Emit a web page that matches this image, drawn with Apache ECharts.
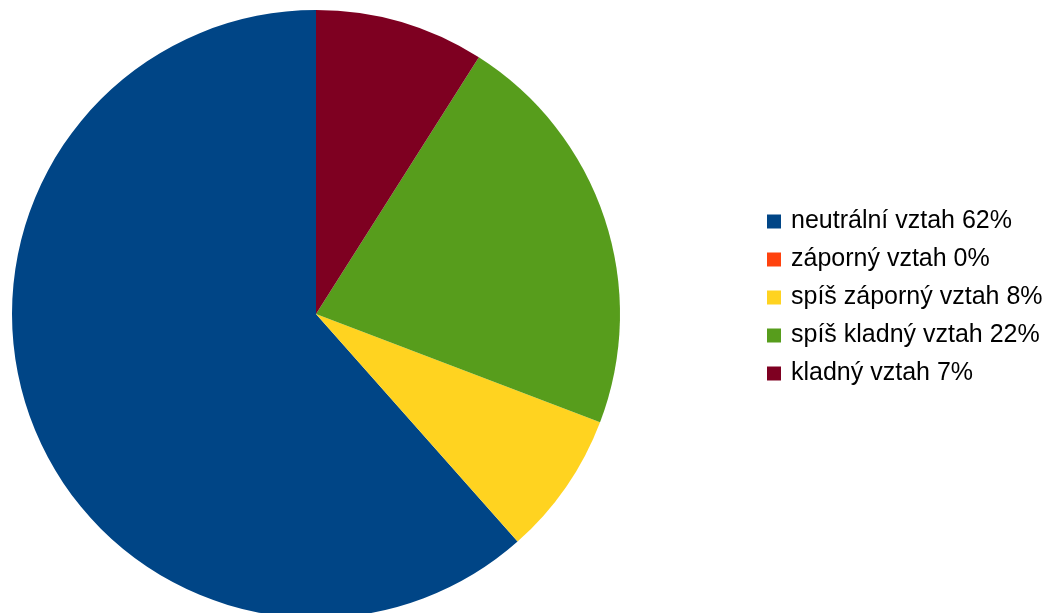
<!DOCTYPE html>
<html>
<head>
<meta charset="utf-8">
<script src="https://cdn.jsdelivr.net/npm/echarts@6/dist/echarts.min.js"></script>
<style>
html,body{margin:0;padding:0;background:#fff;}
#chart{width:1054px;height:613px;}
</style>
</head>
<body>
<div id="chart"></div>
<script>
const categories = ["neutrální vztah 62%", "záporný vztah 0%", "spíš záporný vztah 8%", "spíš kladný vztah 22%", "kladný vztah 7%"];
const values = [61.55, 0, 7.67, 21.8, 9.0];
const colors = ["#004586", "#ff420e", "#ffd320", "#579d1c", "#7e0021"];

const chart = echarts.init(document.getElementById('chart'), null, {renderer: 'canvas'});
chart.setOption({
  animation: false,
  color: colors,
  legend: {
    orient: 'vertical',
    left: 762,
    top: 204,
    icon: 'rect',
    itemWidth: 14,
    itemHeight: 14,
    itemGap: 13,
    selectedMode: false,
    textStyle: {
      fontFamily: 'Liberation Sans, Arial, sans-serif',
      fontSize: 25,
      color: '#000',
      lineHeight: 25,
      padding: [0, 0, 0, 5]
    },
    data: categories
  },
  series: [{
    type: 'pie',
    center: [316, 314],
    radius: [0, 304],
    startAngle: 90,
    clockwise: false,
    label: {show: false},
    labelLine: {show: false},
    emphasis: {disabled: true},
    itemStyle: {borderWidth: 0},
    data: categories.map((c, i) => ({name: c, value: values[i]}))
  }]
});
</script>
</body>
</html>
